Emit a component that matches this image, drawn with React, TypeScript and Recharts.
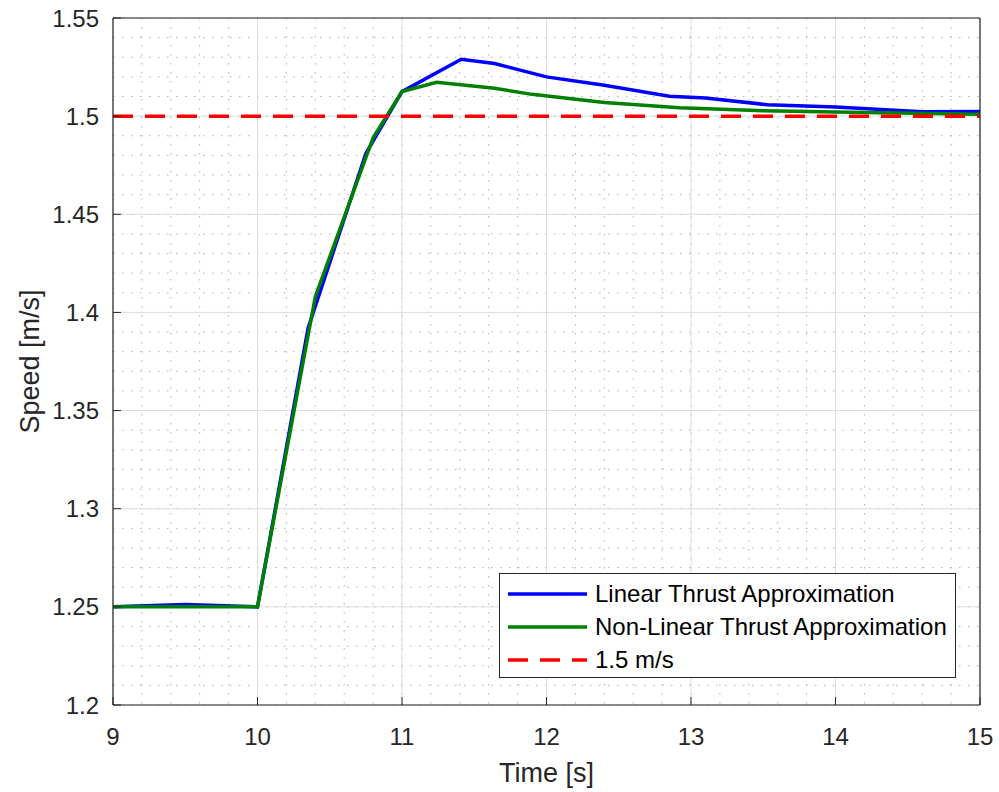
import { CartesianGrid, Legend, Line, LineChart, XAxis, YAxis } from 'recharts'

const THEME = {
  linear: '#0000ff',
  nonLinear: '#008000',
  target: '#ff0000',
  axis: '#262626',
  grid: '#dedede',
  minor: '#b0b0b0',
}

const FONT = '"Liberation Sans", Arial, Helvetica, sans-serif'
const TICK_FONT = 24
const TICK_LEN = 8

const xDomain = [9, 15]
const yDomain = [1.2, 1.55]
const xTicks = [9, 10, 11, 12, 13, 14, 15]
const yTicks = [1.2, 1.25, 1.3, 1.35, 1.4, 1.45, 1.5, 1.55]
// minor grid every 0.2 s and 0.01 m/s
const xMinorTicks = Array.from({ length: 31 }, (_, i) => +(9 + i * 0.2).toFixed(1))
const yMinorTicks = Array.from({ length: 36 }, (_, i) => +(1.2 + i * 0.01).toFixed(2))

const linearTime = [9, 9.5, 10, 10.35, 10.75, 11, 11.41, 11.64, 12, 12.4, 12.85, 13.1, 13.53, 14, 14.6, 15]
const linearSpeed = [1.25, 1.2512, 1.25, 1.392, 1.481, 1.5125, 1.529, 1.5268, 1.52, 1.5157, 1.5101, 1.5092, 1.5058, 1.5047, 1.5022, 1.5024]

const nonLinearTime = [9, 10, 10.4, 10.8, 11, 11.24, 11.64, 11.9, 12.4, 12.92, 13.5, 14.2, 15]
const nonLinearSpeed = [1.25, 1.25, 1.408, 1.489, 1.5125, 1.5172, 1.5142, 1.5111, 1.507, 1.5043, 1.5028, 1.5018, 1.501]

const targetTime = [9, 15]
const targetSpeed = [1.5, 1.5]

const linearData = linearTime.map((t, i) => ({ t, v: linearSpeed[i] }))
const nonLinearData = nonLinearTime.map((t, i) => ({ t, v: nonLinearSpeed[i] }))
const targetData = targetTime.map((t, i) => ({ t, v: targetSpeed[i] }))

const legendItems = [
  { name: 'Linear Thrust Approximation', color: THEME.linear, dash: undefined },
  { name: 'Non-Linear Thrust Approximation', color: THEME.nonLinear, dash: undefined },
  { name: '1.5 m/s', color: THEME.target, dash: '20 12' },
]

type TickProps = { x: number; y: number; payload: { value: number } }
type ViewBox = { x: number; y: number; width: number; height: number }
type Offset = { left: number; top: number; width: number; height: number }
type GenArgs = { xAxis?: { scale?: unknown }; yAxis?: { scale?: unknown }; offset: Offset }

const BOTTOM_MARGIN = 23
const LEFT_MARGIN = 14

// use the axis scale when it is callable, otherwise map linearly over the plot box
function project(scale: unknown, v: number, fallback: number) {
  if (typeof scale === 'function') return (scale as (n: number) => number)(v)
  const s = scale as { map?: (n: number) => number } | undefined
  if (s && typeof s.map === 'function') {
    const r = s.map(v)
    if (typeof r === 'number' && Number.isFinite(r)) return r
  }
  return fallback
}

function minorRows({ yAxis, offset }: GenArgs) {
  return yMinorTicks.map((v) =>
    project(yAxis?.scale, v, offset.top + (offset.height * (yDomain[1] - v)) / (yDomain[1] - yDomain[0])),
  )
}

function minorCols({ xAxis, offset }: GenArgs) {
  return xMinorTicks.map((v) =>
    project(xAxis?.scale, v, offset.left + (offset.width * (v - xDomain[0])) / (xDomain[1] - xDomain[0])),
  )
}

function BottomTick({ x, y, payload }: TickProps) {
  const axisY = y - BOTTOM_MARGIN
  return (
    <g>
      <line x1={x} x2={x} y1={axisY} y2={axisY - TICK_LEN} stroke={THEME.axis} strokeWidth={1} />
      <text x={x} y={y} dy="0.716em" textAnchor="middle" fill={THEME.axis} fontSize={TICK_FONT} fontFamily={FONT}>
        {payload.value}
      </text>
    </g>
  )
}

function LeftTick({ x, y, payload }: TickProps) {
  const axisX = x + LEFT_MARGIN
  return (
    <g>
      <line x1={axisX} x2={axisX + TICK_LEN} y1={y} y2={y} stroke={THEME.axis} strokeWidth={1} />
      <text x={x} y={y} dy="0.36em" textAnchor="end" fill={THEME.axis} fontSize={TICK_FONT} fontFamily={FONT}>
        {payload.value}
      </text>
    </g>
  )
}

function TopTick({ x, y }: TickProps) {
  return <line x1={x} x2={x} y1={y} y2={y + TICK_LEN} stroke={THEME.axis} strokeWidth={1} />
}

function RightTick({ x, y }: TickProps) {
  return <line x1={x} x2={x - TICK_LEN} y1={y} y2={y} stroke={THEME.axis} strokeWidth={1} />
}

function LegendBox() {
  return (
    <div
      style={{
        width: 457,
        height: 105,
        boxSizing: 'border-box',
        border: `1px solid ${THEME.axis}`,
        background: '#fff',
        paddingTop: 3,
        fontFamily: FONT,
        fontSize: 24,
        color: '#000',
      }}
    >
      {legendItems.map((item) => (
        <div key={item.name} style={{ display: 'flex', alignItems: 'center', height: 33 }}>
          <svg width={79} height={6} style={{ marginLeft: 8, marginRight: 8 }}>
            <line x1={0} x2={79} y1={3} y2={3} stroke={item.color} strokeWidth={3.5} strokeDasharray={item.dash} />
          </svg>
          <span style={{ whiteSpace: 'nowrap' }}>{item.name}</span>
        </div>
      ))}
    </div>
  )
}

export default function App() {
  return (
    <div style={{ position: 'absolute', left: 0, top: 0, width: 999, height: 792, background: '#fff' }}>
      <LineChart width={999} height={792} margin={{ top: 17, right: 18, bottom: 0, left: 0 }}>
        <CartesianGrid
          stroke={THEME.minor}
          strokeDasharray="1.5 7.5"
          strokeWidth={1}
          horizontalCoordinatesGenerator={minorRows}
          verticalCoordinatesGenerator={minorCols}
        />
        <CartesianGrid stroke={THEME.grid} strokeWidth={1} />

        <XAxis
          type="number"
          dataKey="t"
          domain={xDomain}
          ticks={xTicks}
          interval={0}
          allowDataOverflow
          height={87}
          tickSize={0}
          tickMargin={BOTTOM_MARGIN}
          tickLine={false}
          axisLine={{ stroke: THEME.axis, strokeWidth: 1.2 }}
          tick={BottomTick}
          label={{
            content: ({ viewBox }: { viewBox?: ViewBox }) =>
              viewBox ? (
                <text
                  x={viewBox.x + viewBox.width / 2}
                  y={viewBox.y + 68}
                  textAnchor="middle"
                  dominantBaseline="central"
                  fill={THEME.axis}
                  fontSize={27}
                  fontFamily={FONT}
                >
                  Time [s]
                </text>
              ) : null,
          }}
        />
        <YAxis
          type="number"
          domain={yDomain}
          ticks={yTicks}
          interval={0}
          allowDataOverflow
          width={113}
          tickSize={0}
          tickMargin={LEFT_MARGIN}
          tickLine={false}
          axisLine={{ stroke: THEME.axis, strokeWidth: 1.2 }}
          tick={LeftTick}
          label={{
            content: ({ viewBox }: { viewBox?: ViewBox }) =>
              viewBox ? (
                <text
                  x={30}
                  y={viewBox.y + viewBox.height / 2}
                  transform={`rotate(-90 30 ${viewBox.y + viewBox.height / 2})`}
                  textAnchor="middle"
                  dominantBaseline="central"
                  fill={THEME.axis}
                  fontSize={27}
                  fontFamily={FONT}
                >
                  Speed [m/s]
                </text>
              ) : null,
          }}
        />
        <XAxis
          xAxisId="top"
          orientation="top"
          type="number"
          dataKey="t"
          domain={xDomain}
          ticks={xTicks}
          interval={0}
          height={1}
          tickSize={0}
          tickMargin={0}
          tickLine={false}
          axisLine={{ stroke: THEME.axis, strokeWidth: 1.2 }}
          tick={TopTick}
        />
        <YAxis
          yAxisId="right"
          orientation="right"
          type="number"
          domain={yDomain}
          ticks={yTicks}
          interval={0}
          width={1}
          tickSize={0}
          tickMargin={0}
          tickLine={false}
          axisLine={{ stroke: THEME.axis, strokeWidth: 1.2 }}
          tick={RightTick}
        />

        <Line
          data={linearData}
          dataKey="v"
          type="linear"
          stroke={THEME.linear}
          strokeWidth={3.5}
          dot={false}
          isAnimationActive={false}
          name="Linear Thrust Approximation"
        />
        <Line
          data={nonLinearData}
          dataKey="v"
          type="linear"
          stroke={THEME.nonLinear}
          strokeWidth={3.5}
          dot={false}
          isAnimationActive={false}
          name="Non-Linear Thrust Approximation"
        />
        <Line
          data={targetData}
          dataKey="v"
          type="linear"
          stroke={THEME.target}
          strokeWidth={3.5}
          strokeDasharray="20 12"
          dot={false}
          isAnimationActive={false}
          name="1.5 m/s"
        />

        <Legend
          layout="vertical"
          align="center"
          verticalAlign="middle"
          wrapperStyle={{ left: 499, top: 573, width: 'auto', height: 'auto' }}
          content={() => <LegendBox />}
        />
      </LineChart>
    </div>
  )
}
